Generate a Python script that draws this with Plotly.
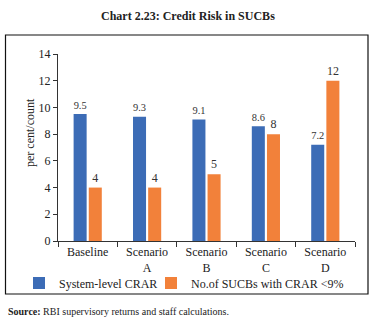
import plotly.graph_objects as go

categories = ["Baseline", "Scenario<br>A", "Scenario<br>B", "Scenario<br>C", "Scenario<br>D"]
crar = [9.5, 9.3, 9.1, 8.6, 7.2]
sucbs = [4, 4, 5, 8, 12]
series_names = ["System-level CRAR", "No.of SUCBs with CRAR <9%"]
colors = ["#3C6CB6", "#F2813A"]

FONT = "Liberation Serif"
W, H = 376, 326
L, R, T, B = 58, 21, 54, 85
PW, PH = W - L - R, H - T - B

def px(x):
    return (x - L) / PW

def py(y):
    return (H - B - y) / PH

fig = go.Figure()
legend_ids = ["legend", "legend2"]
for name, vals, col, lg in zip(series_names, [crar, sucbs], colors, legend_ids):
    fig.add_trace(go.Bar(
        x=categories, y=vals, name=name, marker_color=col, marker_line_width=0,
        text=[f"{v:g}" for v in vals], textposition="outside", cliponaxis=False,
        textfont=dict(family=FONT, size=12, color="#333333"), legend=lg,
    ))

legend_style = dict(orientation="h", yanchor="middle", xanchor="left", y=py(283),
                    font=dict(family=FONT, size=12, color="#222222"),
                    bgcolor="rgba(0,0,0,0)", itemwidth=30)

fig.update_layout(
    width=W, height=H, margin=dict(l=L, r=R, t=T, b=B),
    paper_bgcolor="white", plot_bgcolor="white",
    barmode="group", bargap=0.49, bargroupgap=0.14,
    font=dict(family=FONT, size=12, color="#222222"),
    showlegend=True,
    legend=dict(x=px(19), **legend_style),
    legend2=dict(x=px(151), **legend_style),
    xaxis=dict(showline=True, linecolor="#333333", linewidth=1, ticks="outside",
               tickson="boundaries", ticklen=5, tickcolor="#333333", showgrid=False,
               tickfont=dict(family=FONT, size=12, color="#222222")),
    yaxis=dict(range=[0, 14], dtick=2, showline=True, linecolor="#333333", linewidth=1,
               ticks="outside", ticklen=4, tickcolor="#333333", showgrid=False, zeroline=False,
               tickfont=dict(family=FONT, size=12, color="#222222")),
    shapes=[dict(type="rect", xref="paper", yref="paper",
                 x0=px(5.5), x1=px(368), y0=py(294), y1=py(35),
                 line=dict(color="#111111", width=1.2), fillcolor="rgba(0,0,0,0)", layer="below")],
    annotations=[
        dict(text="<b>Chart 2.23: Credit Risk in SUCBs</b>", xref="paper", yref="paper",
             x=px(188), y=py(16), xanchor="center", yanchor="middle", showarrow=False,
             font=dict(family=FONT, size=12, color="#222222")),
        dict(text="per cent/count", textangle=-90, xref="paper", yref="paper",
             x=px(30), y=py(133), xanchor="center", yanchor="middle", showarrow=False,
             font=dict(family=FONT, size=12, color="#222222")),
        dict(text="<b>Source:</b> RBI supervisory returns and staff calculations.",
             xref="paper", yref="paper", x=px(6), y=py(311), xanchor="left", yanchor="middle",
             showarrow=False, font=dict(family=FONT, size=10, color="#222222")),
    ],
)

fig.write_html("out.html")
